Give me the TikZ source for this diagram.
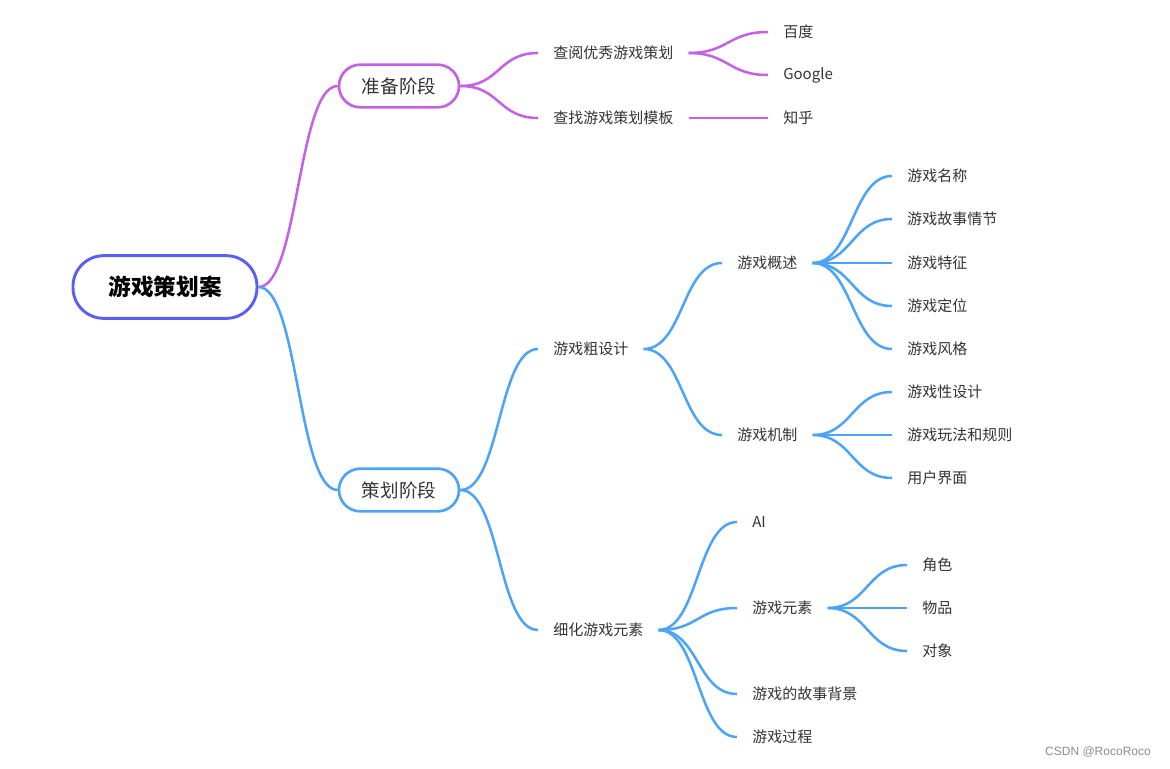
\documentclass[tikz,border=0pt]{standalone}
\usepackage{fontspec}
\setmainfont{Noto Sans CJK SC}
\newfontfamily\markfont{Liberation Sans}
\usetikzlibrary{positioning}
\definecolor{rootblue}{HTML}{5B5EF2}
\definecolor{prepurple}{HTML}{C462E3}
\definecolor{planblue}{HTML}{4DA3F5}
\definecolor{labelgray}{HTML}{333333}

\begin{document}
\begin{tikzpicture}[
    x=0.75pt, y=-0.75pt,
    root/.style={rectangle, draw=rootblue, line width=2.2pt, rounded corners=23pt, minimum width=138pt, minimum height=47pt, text=black, font=\fontsize{17}{20}\selectfont\bfseries},
    stage/.style={rectangle, draw, line width=2pt, rounded corners=16pt, minimum width=90pt, minimum height=32pt, text=labelgray, font=\fontsize{13.9}{16}\selectfont},
    topic/.style={inner xsep=11.25pt, inner ysep=2pt, anchor=west, text=labelgray, font=\fontsize{11.25}{13}\selectfont},
    branch/.style={line width=1.9pt, to path={.. controls +(30pt,0) and +(-30pt,0) .. (\tikztotarget)}}
]
    \useasboundingbox (0,0) rectangle (1170,768);

    % main topic and stages
    \node[root] (plan) at (165,287) {游戏策划案};
    \node[stage, draw=prepurple] (prep) at (399,86) {准备阶段};
    \node[stage, draw=planblue] (design) at (399,490) {策划阶段};

    % preparation stage
    \node[topic] (review) at (538,53) {查阅优秀游戏策划};
    \node[topic] (template) at (538,118) {查找游戏策划模板};
    \node[topic] (baidu) at (768,32) {百度};
    \node[topic] (google) at (768,75) {Google};
    \node[topic] (zhihu) at (768,118) {知乎};

    % planning stage
    \node[topic] (rough) at (538,349) {游戏粗设计};
    \node[topic] (detail) at (538,630) {细化游戏元素};
    \node[topic] (overview) at (722,263) {游戏概述};
    \node[topic] (mechanic) at (722,435) {游戏机制};
    \node[topic] (name) at (892,176) {游戏名称};
    \node[topic] (story) at (892,219) {游戏故事情节};
    \node[topic] (feature) at (892,263) {游戏特征};
    \node[topic] (position) at (892,306) {游戏定位};
    \node[topic] (style) at (892,349) {游戏风格};
    \node[topic] (gameplay) at (892,392) {游戏性设计};
    \node[topic] (rules) at (892,435) {游戏玩法和规则};
    \node[topic] (ui) at (892,478) {用户界面};
    \node[topic] (ai) at (737,522) {AI};
    \node[topic] (elements) at (737,608) {游戏元素};
    \node[topic] (background) at (737,694) {游戏的故事背景};
    \node[topic] (process) at (737,737) {游戏过程};
    \node[topic] (role) at (907,565) {角色};
    \node[topic] (item) at (907,608) {物品};
    \node[topic] (object) at (907,651) {对象};

    \node[font=\markfont\fontsize{9}{10}\selectfont, text=black!45] (mark) at (1098,752) {CSDN @RocoRoco};

    \draw[branch, prepurple] (plan.east) to (prep.west);
    \draw[branch, planblue] (plan.east) to (design.west);

    \draw[branch, prepurple] (prep.east) to (review.west);
    \draw[branch, prepurple] (prep.east) to (template.west);
    \draw[branch, prepurple] (review.east) to (baidu.west);
    \draw[branch, prepurple] (review.east) to (google.west);
    \draw[branch, prepurple] (template.east) to (zhihu.west);

    \draw[branch, planblue] (design.east) to (rough.west);
    \draw[branch, planblue] (design.east) to (detail.west);
    \draw[branch, planblue] (rough.east) to (overview.west);
    \draw[branch, planblue] (rough.east) to (mechanic.west);
    \draw[branch, planblue] (overview.east) to (name.west);
    \draw[branch, planblue] (overview.east) to (story.west);
    \draw[branch, planblue] (overview.east) to (feature.west);
    \draw[branch, planblue] (overview.east) to (position.west);
    \draw[branch, planblue] (overview.east) to (style.west);
    \draw[branch, planblue] (mechanic.east) to (gameplay.west);
    \draw[branch, planblue] (mechanic.east) to (rules.west);
    \draw[branch, planblue] (mechanic.east) to (ui.west);
    \draw[branch, planblue] (detail.east) to (ai.west);
    \draw[branch, planblue] (detail.east) to (elements.west);
    \draw[branch, planblue] (detail.east) to (background.west);
    \draw[branch, planblue] (detail.east) to (process.west);
    \draw[branch, planblue] (elements.east) to (role.west);
    \draw[branch, planblue] (elements.east) to (item.west);
    \draw[branch, planblue] (elements.east) to (object.west);
\end{tikzpicture}
\end{document}
